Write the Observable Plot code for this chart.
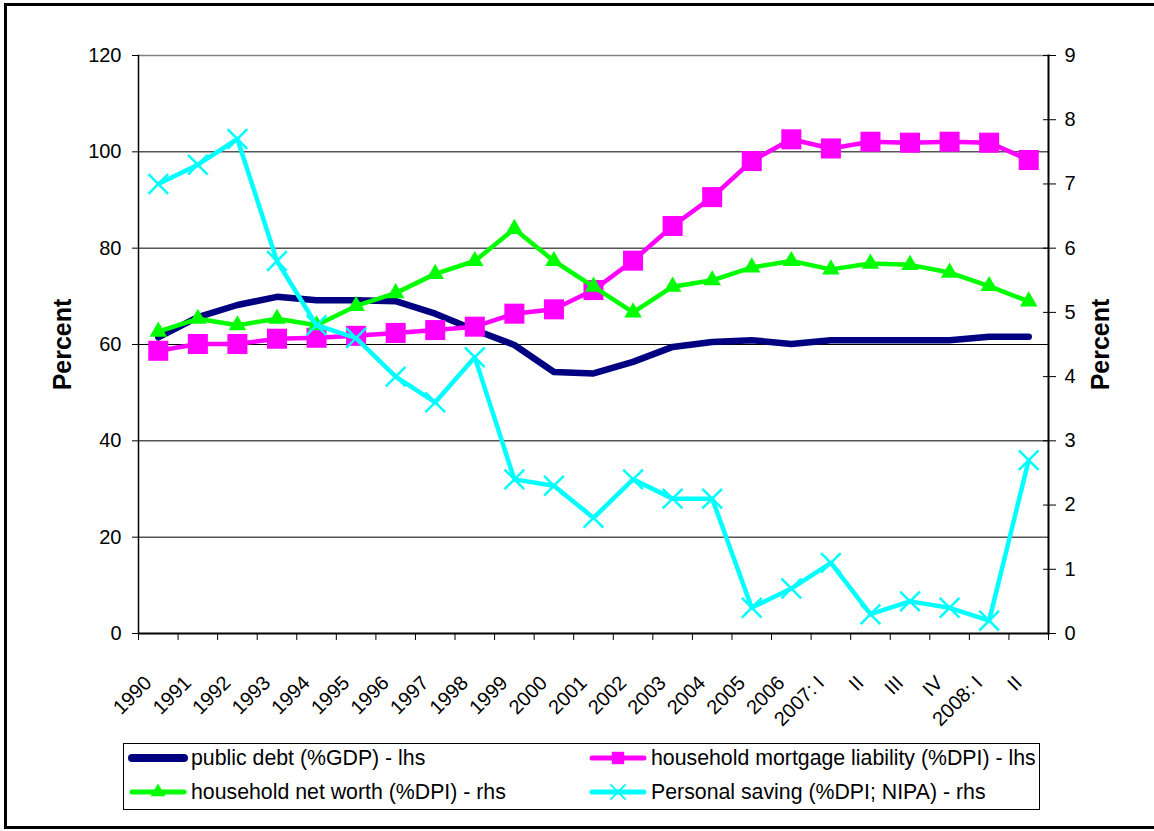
<!DOCTYPE html>
<html>
<head>
<meta charset="utf-8">
<script src="https://cdn.jsdelivr.net/npm/d3@7"></script>
<script src="https://cdn.jsdelivr.net/npm/@observablehq/plot@0.6"></script>
<style>
html, body { margin: 0; padding: 0; background: #fff; }
#page { position: relative; width: 1154px; height: 831px; overflow: hidden; font-family: "Liberation Sans", Arial, sans-serif; }
#frame { position: absolute; left: 4px; top: 3px; width: 1200px; height: 826px; border: 3px solid #000; box-sizing: border-box; }
#chart { position: absolute; left: 0; top: 0; }
#legend { position: absolute; left: 123px; top: 743px; width: 917px; height: 67px; border: 1px solid #000; box-sizing: border-box; background: #fff; }
.item { position: absolute; height: 30px; display: flex; align-items: center; font-size: 21.3px; color: #000; white-space: nowrap; }
.item svg { display: block; margin-right: 3px; }
</style>
</head>
<body>
<div id="page">
  <div id="frame"></div>
  <div id="chart"></div>
  <div id="legend"></div>
</div>
<script>
// ---- data ----
const periods = ["1990","1991","1992","1993","1994","1995","1996","1997","1998","1999","2000","2001","2002","2003","2004","2005","2006","2007Q1","2007Q2","2007Q3","2007Q4","2008Q1","2008Q2"];
const tickLabels = ["1990","1991","1992","1993","1994","1995","1996","1997","1998","1999","2000","2001","2002","2003","2004","2005","2006","2007: I","II","III","IV","2008: I","II"];
// left-hand scale (percent)
const publicDebt = [61.5, 65.7, 68.2, 69.9, 69.2, 69.2, 69.0, 66.4, 63.0, 59.9, 54.3, 54.0, 56.4, 59.5, 60.5, 60.9, 60.1, 60.9, 60.9, 60.9, 60.9, 61.6, 61.6];
const mortgage = [58.7, 60.1, 60.1, 61.2, 61.4, 61.8, 62.4, 63.0, 63.7, 66.4, 67.3, 71.3, 77.4, 84.6, 90.6, 98.1, 102.6, 100.7, 102.1, 101.9, 102.1, 101.9, 98.3];
// right-hand scale (percent)
const netWorth = [4.7, 4.9, 4.8, 4.9, 4.8, 5.1, 5.3, 5.6, 5.8, 6.3, 5.8, 5.4, 5.0, 5.4, 5.5, 5.7, 5.8, 5.67, 5.76, 5.74, 5.62, 5.41, 5.17];
const saving = [7.0, 7.3, 7.7, 5.8, 4.8, 4.6, 4.0, 3.6, 4.3, 2.4, 2.3, 1.8, 2.4, 2.1, 2.1, 0.4, 0.7, 1.1, 0.3, 0.5, 0.4, 0.2, 2.7];
const leftTicks = [0, 20, 40, 60, 80, 100, 120];
const rightTicks = [0, 1, 2, 3, 4, 5, 6, 7, 8, 9];
const seriesNames = ["public debt (%GDP) - lhs", "household mortgage liability (%DPI) - lhs", "household net worth (%DPI) - rhs", "Personal saving (%DPI; NIPA) - rhs"];
const seriesColors = ["#000080", "#FF00FF", "#00FF00", "#00FFFF"];

// ---- layout ----
const W = 1154, H = 740, ML = 138, MR = 106, MT = 55, MB = 107;
const step = (W - ML - MR) / periods.length;
const k = 120 / 9; // rhs -> lhs

const rows = periods.map((p, i) => ({p, debt: publicDebt[i], mort: mortgage[i], nw: netWorth[i], sav: saving[i]}));

const chart = Plot.plot({
  width: W, height: H,
  marginLeft: ML, marginRight: MR, marginTop: MT, marginBottom: MB,
  style: {fontFamily: '"Liberation Sans", Arial, sans-serif', fontSize: "20px", color: "#000", background: "transparent", overflow: "visible"},
  x: {type: "band", domain: periods, padding: 0, round: false},
  y: {domain: [0, 120]},
  marks: [
    Plot.ruleY(leftTicks.filter(t => t > 0 && t < 120), {stroke: "#000", strokeWidth: 1}),
    Plot.ruleY([120], {stroke: "#808080", strokeWidth: 1.5}),
    Plot.frame({anchor: "left", stroke: "#000", strokeWidth: 1.5}),
    Plot.frame({anchor: "right", stroke: "#000", strokeWidth: 2}),
    Plot.ruleY([0], {stroke: "#000", strokeWidth: 2}),
    Plot.axisY(leftTicks, {anchor: "left", tickSize: 6, tickPadding: 11, label: null}),
    Plot.axisY(rightTicks.map(v => v * k), {anchor: "right", tickSize: 13, dx: -6, tickPadding: 9, tickFormat: d => String(Math.round(d / k)), label: null}),
    Plot.axisX(periods, {anchor: "bottom", tickSize: 7, dx: -step / 2, tickFormat: () => "", label: null}),
    Plot.axisX(periods.slice(-1), {anchor: "bottom", tickSize: 7, dx: step / 2, tickFormat: () => "", label: null}),
    Plot.axisX(periods, {anchor: "bottom", tickSize: 0, tickRotate: -45, tickPadding: 46, dx: -10, tickFormat: d => tickLabels[periods.indexOf(d)], label: null}),
    Plot.line(rows, {x: "p", y: "debt", stroke: seriesColors[0], strokeWidth: 6.5, strokeLinecap: "round", strokeLinejoin: "round"}),
    Plot.line(rows, {x: "p", y: "mort", stroke: seriesColors[1], strokeWidth: 4.5}),
    Plot.dot(rows, {x: "p", y: "mort", symbol: "square", r: 11.3, fill: seriesColors[1], stroke: "none"}),
    Plot.line(rows, {x: "p", y: d => d.nw * k, stroke: seriesColors[2], strokeWidth: 4.5}),
    Plot.dot(rows, {x: "p", y: d => d.nw * k, symbol: "triangle", r: 6.5, fill: seriesColors[2], stroke: "none"}),
    Plot.line(rows, {x: "p", y: d => d.sav * k, stroke: seriesColors[3], strokeWidth: 4.5}),
    Plot.dot(rows, {x: "p", y: d => d.sav * k, symbol: "times", r: 9, fill: "none", stroke: seriesColors[3], strokeWidth: 2.5}),
    Plot.text(["Percent"], {text: d => d, frameAnchor: "left", textAnchor: "middle", dx: -76, rotate: -90, fontWeight: "bold", fontSize: 25}),
    Plot.text(["Percent"], {text: d => d, frameAnchor: "right", textAnchor: "middle", dx: 52, rotate: -90, fontWeight: "bold", fontSize: 25})
  ]
});
document.getElementById("chart").appendChild(chart);

// ---- legend ----
const legend = d3.select("#legend");
const symbols = [null, d3.symbolSquare, d3.symbolTriangle, d3.symbolTimes];
const symR = [0, 7, 5.5, 7];
const lineW = [8, 5, 5, 5];
const pos = [[4, -1], [464, -1], [4, 33], [464, 33]];
seriesNames.forEach((name, i) => {
  const it = legend.append("div").attr("class", "item")
    .style("left", pos[i][0] + "px").style("top", pos[i][1] + "px");
  const svg = it.append("svg").attr("width", 60).attr("height", 30);
  svg.append("line").attr("x1", 4).attr("x2", 56).attr("y1", 15).attr("y2", 15)
    .attr("stroke", seriesColors[i]).attr("stroke-width", lineW[i]).attr("stroke-linecap", "round");
  if (symbols[i]) {
    const path = d3.symbol(symbols[i], Math.PI * symR[i] * symR[i])();
    const p = svg.append("path").attr("d", path).attr("transform", "translate(30,15)");
    if (i === 3) p.attr("fill", "none").attr("stroke", seriesColors[i]).attr("stroke-width", 2);
    else p.attr("fill", seriesColors[i]);
  }
  it.append("span").text(name);
});
</script>
</body>
</html>
